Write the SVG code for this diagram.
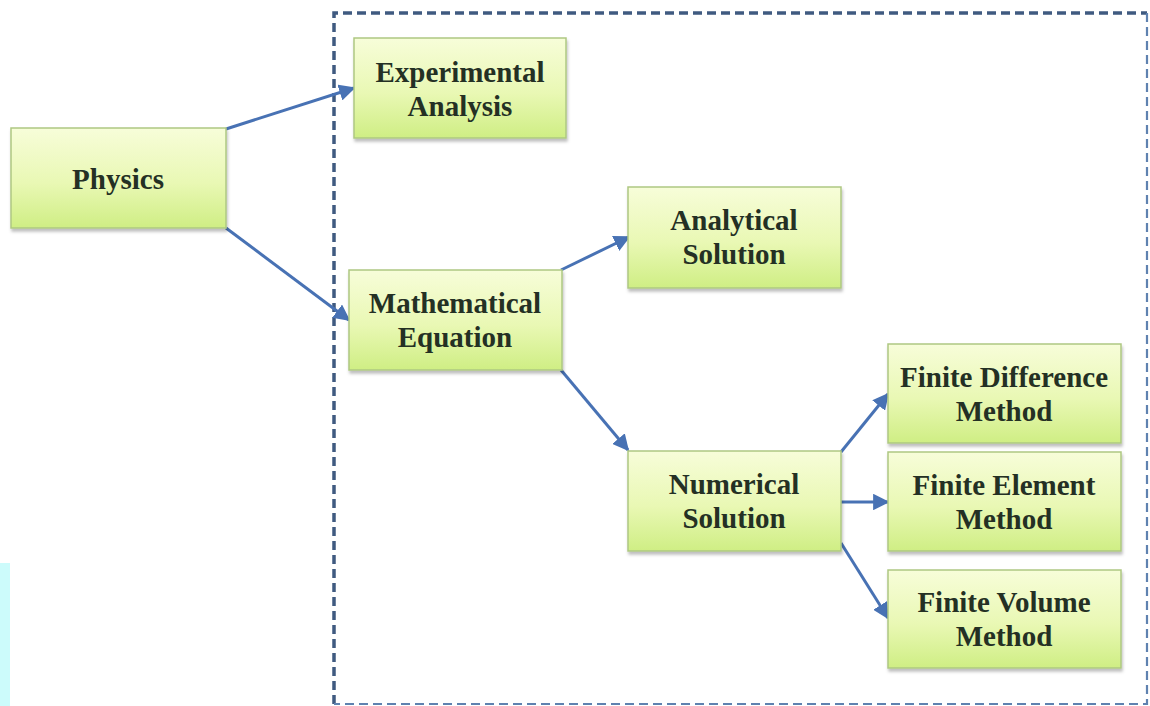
<svg xmlns="http://www.w3.org/2000/svg" width="1150" height="706" viewBox="0 0 1150 706">
<defs>
<linearGradient id="g" x1="0" y1="0" x2="0" y2="1">
<stop offset="0" stop-color="#f7fdd9"/>
<stop offset="0.55" stop-color="#e9f8b4"/>
<stop offset="1" stop-color="#cfee84"/>
</linearGradient>
<marker id="ah" viewBox="0 0 10 10" refX="9" refY="5" markerWidth="5.5" markerHeight="5.5" markerUnits="strokeWidth" orient="auto">
<path d="M0,0 L10,5 L0,10 z" fill="#4872b4"/>
</marker>
<filter id="sh" x="-5%" y="-5%" width="112%" height="115%">
<feDropShadow dx="1" dy="3" stdDeviation="1.5" flood-color="#000" flood-opacity="0.25"/>
</filter>
</defs>
<style>
.box{fill:url(#g);stroke:#aec882;stroke-width:1.5;filter:url(#sh)}
.t{font-family:"Liberation Serif",serif;font-weight:bold;font-size:29px;fill:#243024;text-anchor:middle}
.c{stroke:#4872b4;stroke-width:3;fill:none;marker-end:url(#ah)}
</style>
<rect x="0" y="0" width="1150" height="706" fill="#ffffff"/>
<rect x="0" y="563" width="10" height="143" fill="#ccfbfb"/>
<g id="frame">
<path d="M334,704 L334,13 L1147,13" fill="none" stroke="#3f5a80" stroke-width="3.5" stroke-dasharray="9,5"/>
<path d="M1147,13 L1147,704 L334,704" fill="none" stroke="#5f82b0" stroke-width="2.2" stroke-dasharray="9,5"/>
</g>
<g id="connectors">
<line class="c" x1="226" y1="129" x2="354" y2="88"/>
<line class="c" x1="226" y1="228" x2="349" y2="320"/>
<line class="c" x1="561" y1="270" x2="629" y2="237"/>
<line class="c" x1="561" y1="370" x2="628" y2="450"/>
<line class="c" x1="841" y1="452" x2="888" y2="394"/>
<line class="c" x1="841" y1="502" x2="888" y2="502"/>
<line class="c" x1="841" y1="543" x2="888" y2="618"/>
</g>
<g id="physics">
<rect class="box" x="11" y="128" width="215" height="100"/>
<text class="t" x="118" y="189">Physics</text>
</g>
<g id="experimental">
<rect class="box" x="354" y="38" width="212" height="100"/>
<text class="t" x="460" y="82">Experimental</text>
<text class="t" x="460" y="116">Analysis</text>
</g>
<g id="mathematical">
<rect class="box" x="349" y="270" width="213" height="100"/>
<text class="t" x="455" y="313">Mathematical</text>
<text class="t" x="455" y="347">Equation</text>
</g>
<g id="analytical">
<rect class="box" x="628" y="187" width="213" height="101"/>
<text class="t" x="734" y="230">Analytical</text>
<text class="t" x="734" y="264">Solution</text>
</g>
<g id="numerical">
<rect class="box" x="628" y="451" width="213" height="100"/>
<text class="t" x="734" y="494">Numerical</text>
<text class="t" x="734" y="528">Solution</text>
</g>
<g id="fdm">
<rect class="box" x="888" y="344" width="233" height="99"/>
<text class="t" x="1004" y="387">Finite Difference</text>
<text class="t" x="1004" y="421">Method</text>
</g>
<g id="fem">
<rect class="box" x="888" y="452" width="233" height="99"/>
<text class="t" x="1004" y="495">Finite Element</text>
<text class="t" x="1004" y="529">Method</text>
</g>
<g id="fvm">
<rect class="box" x="888" y="570" width="233" height="98"/>
<text class="t" x="1004" y="612">Finite Volume</text>
<text class="t" x="1004" y="646">Method</text>
</g>
</svg>
